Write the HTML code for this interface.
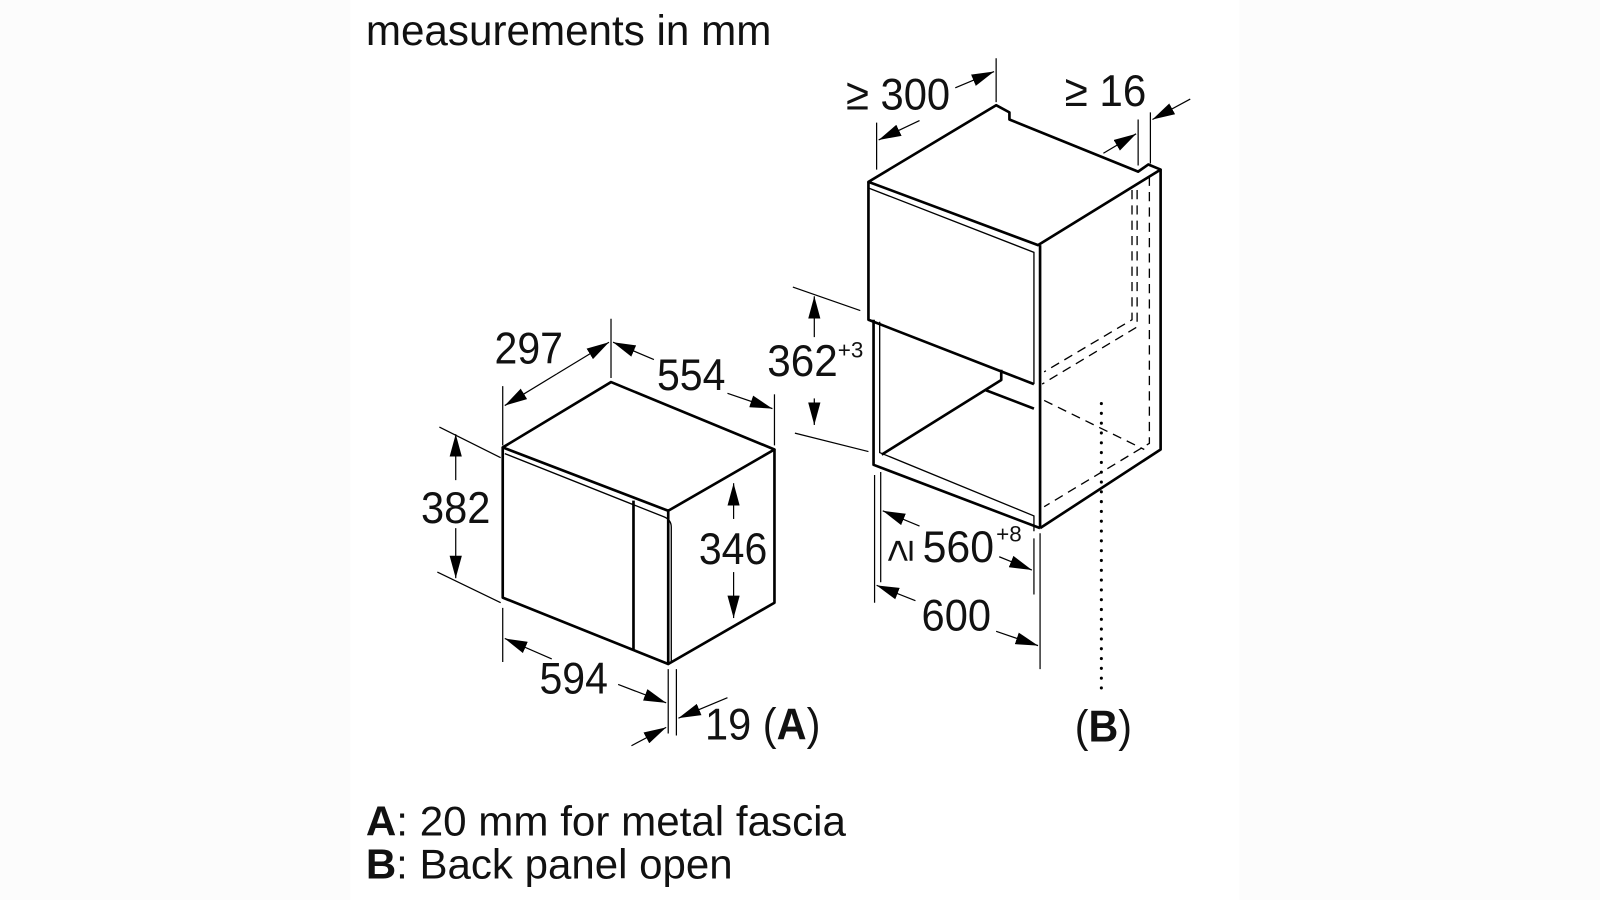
<!DOCTYPE html>
<html><head><meta charset="utf-8"><style>
html,body{margin:0;padding:0;background:#fcfcfc;}
svg{display:block}
text{font-family:"Liberation Sans",Arial,sans-serif;fill:#111}
</style></head><body>
<svg width="1600" height="900" viewBox="0 0 1566 881" xmlns="http://www.w3.org/2000/svg">
<defs>
<marker id="a" viewBox="0 0 22 12" refX="22" refY="6" markerUnits="userSpaceOnUse" markerWidth="22" markerHeight="12" orient="auto"><path d="M0,0 L22,6 L0,12 z" fill="#000"/></marker>
</defs>
<rect x="343" y="0" width="870" height="881" fill="#fff"/>

<text x="358" y="44" font-size="42" textLength="397" lengthAdjust="spacingAndGlyphs">measurements in mm</text>

<g fill="none" stroke="#000" stroke-width="2.6" stroke-linejoin="round">
<path d="M492,438 L598,374 L758,440 L654,500 Z"/>
<path d="M492,438 L492,585 L654,650 L654,500"/>
<path d="M758,440 L758,590 L654,650"/>
<path d="M620,490 L620,636"/>
</g>
<g fill="none" stroke="#000" stroke-width="1.3">
<path d="M494,444 L650,506 Q657,509 657,516 L657,648"/>
</g>

<g fill="none" stroke="#000" stroke-width="2.6" stroke-linejoin="round">
<path d="M850,178 L975,103 L988,110 L988,117 L1114,168 L1124,161 L1136,166 L1016,240 Z"/>
<path d="M850,178 L850,313 L1012,376"/>
<path d="M1018,240 L1018,517"/>
<path d="M1136,166 L1136,440 L1018,517"/>
<path d="M855,313 L855,455 L1018,517"/>
<path d="M863,445 L980,372 L980,362"/>
<path d="M965,382 L1012,400"/>
</g>
<g fill="none" stroke="#000" stroke-width="1.3">
<path d="M850,184 L1012,247 L1012,376"/>
<path d="M861,315 L861,443 L1012,505 L1012,520"/>
</g>
<g fill="none" stroke="#000" stroke-width="1.3" stroke-dasharray="9,6">
<path d="M1108,186 L1108,313 L1022,364"/>
<path d="M1113,186 L1113,320 L1020,376"/>
<path d="M1125,173 L1125,434 L1022,496"/>
<path d="M1022,392 L1120,440"/>
</g>
<path d="M1078,395 L1078,680" stroke="#000" stroke-width="3" stroke-dasharray="0.1,9.5" stroke-linecap="round" fill="none"/>

<g fill="none" stroke="#000" stroke-width="1.2">
<path d="M492,378 L492,436 M598,312 L598,370"/>
<path d="M545,366 L494,397" marker-end="url(#a)"/>
<path d="M545,366 L596,335" marker-end="url(#a)"/>
<path d="M758,386 L758,436"/>
<path d="M640,352 L600,335" marker-end="url(#a)"/>
<path d="M712,385 L756,400" marker-end="url(#a)"/>
<path d="M430,418 L490,448 M428,560 L490,590"/>
<path d="M446,470 L446,425" marker-end="url(#a)"/>
<path d="M446,517 L446,566" marker-end="url(#a)"/>
<path d="M718,508 L718,473" marker-end="url(#a)"/>
<path d="M718,560 L718,605" marker-end="url(#a)"/>
<path d="M492,595 L492,648 M654,655 L654,718 M662,655 L662,720"/>
<path d="M540,645 L494,625" marker-end="url(#a)"/>
<path d="M605,670 L652,688" marker-end="url(#a)"/>
<path d="M712,683 L664,703" marker-end="url(#a)"/>
<path d="M618,730 L652,712" marker-end="url(#a)"/>
<path d="M858,120 L858,166 M975,57 L975,100"/>
<path d="M900,118 L860,137" marker-end="url(#a)"/>
<path d="M935,86 L973,70" marker-end="url(#a)"/>
<path d="M1114,117 L1114,162 M1126,110 L1126,160"/>
<path d="M1080,150 L1112,131" marker-end="url(#a)"/>
<path d="M1165,97 L1128,117" marker-end="url(#a)"/>
<path d="M776,281 L842,304 M778,424 L850,442"/>
<path d="M797,330 L797,290" marker-end="url(#a)"/>
<path d="M797,390 L797,416" marker-end="url(#a)"/>
<path d="M862,462 L862,570 M1012,527 L1012,582"/>
<path d="M900,515 L864,500" marker-end="url(#a)"/>
<path d="M978,545 L1010,558" marker-end="url(#a)"/>
<path d="M856,465 L856,590 M1018,522 L1018,655"/>
<path d="M896,588 L858,573" marker-end="url(#a)"/>
<path d="M975,618 L1016,632" marker-end="url(#a)"/>
</g>

<g font-size="44">
<text x="484" y="356" textLength="67" lengthAdjust="spacingAndGlyphs">297</text>
<text x="643" y="382" textLength="67" lengthAdjust="spacingAndGlyphs">554</text>
<text x="412" y="512" textLength="68" lengthAdjust="spacingAndGlyphs">382</text>
<text x="684" y="552" textLength="67" lengthAdjust="spacingAndGlyphs">346</text>
<text x="528" y="679" textLength="67" lengthAdjust="spacingAndGlyphs">594</text>
<text x="690" y="724" textLength="113" lengthAdjust="spacingAndGlyphs">19 (<tspan font-weight="bold">A</tspan>)</text>
<text x="751" y="368" textLength="69" lengthAdjust="spacingAndGlyphs">362</text>
<text x="820" y="350" font-size="22">+3</text>
<text x="828" y="107" textLength="102" lengthAdjust="spacingAndGlyphs">≥ 300</text>
<text x="1042" y="104" textLength="80" lengthAdjust="spacingAndGlyphs">≥ 16</text>
<text x="0" y="0" transform="translate(893,550) rotate(-90)" font-size="40">≥</text>
<text x="903" y="550" textLength="70" lengthAdjust="spacingAndGlyphs">560</text>
<text x="975" y="530" font-size="22">+8</text>
<text x="902" y="617" textLength="68" lengthAdjust="spacingAndGlyphs">600</text>
<text x="1052" y="726" textLength="56" lengthAdjust="spacingAndGlyphs">(<tspan font-weight="bold">B</tspan>)</text>
</g>

<text x="358" y="818" font-size="41" textLength="470" lengthAdjust="spacingAndGlyphs"><tspan font-weight="bold">A</tspan>: 20 mm for metal fascia</text>
<text x="358" y="860" font-size="41" textLength="359" lengthAdjust="spacingAndGlyphs"><tspan font-weight="bold">B</tspan>: Back panel open</text>
</svg>
</body></html>
